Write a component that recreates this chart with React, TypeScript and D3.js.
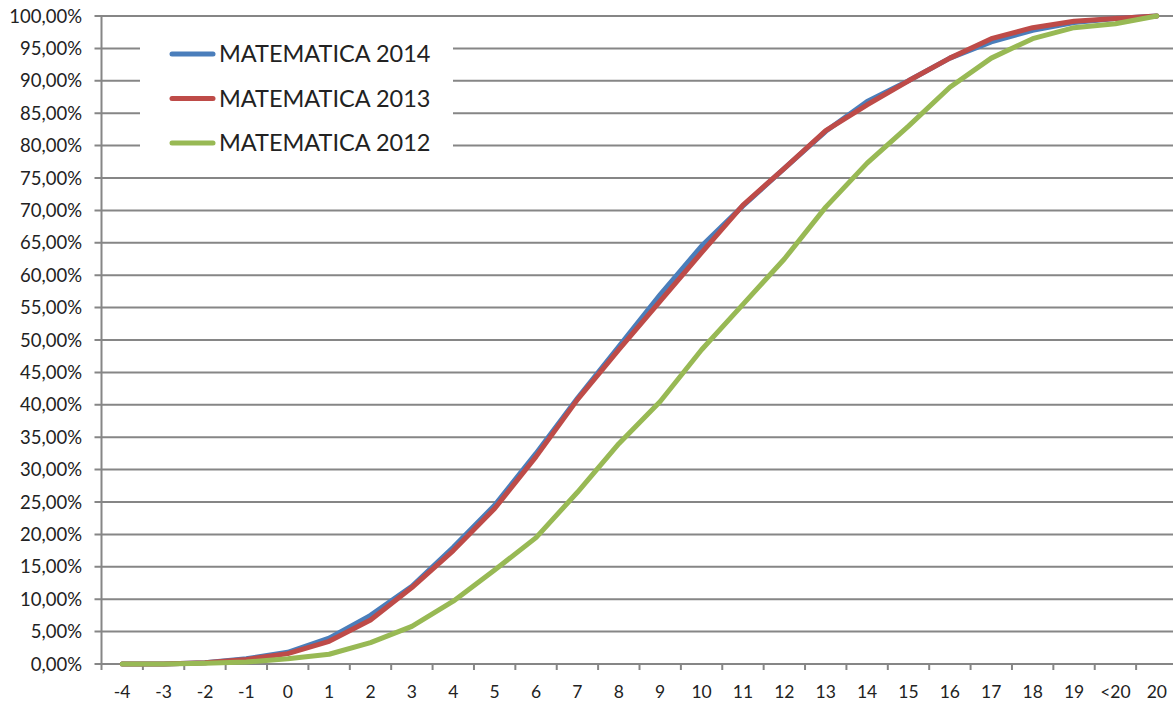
import React from "react";
import * as d3 from "d3";

const categories = ["-4","-3","-2","-1","0","1","2","3","4","5","6","7","8","9","10","11","12","13","14","15","16","17","18","19","<20","20"];
const mat2014 = [0,0,0.2,0.8,1.8,4,7.5,12,18,24.5,32.5,41,49,57,64.5,70.7,76.5,82.2,86.8,90,93.5,96,97.8,99,99.6,100];
const mat2013 = [0,0,0.2,0.7,1.6,3.5,6.8,11.8,17.5,24,32,40.8,48.5,56,63.5,70.8,76.5,82.3,86.3,90,93.5,96.5,98.2,99.2,99.6,100];
const mat2012 = [0,0,0.1,0.3,0.8,1.5,3.3,5.8,9.7,14.5,19.5,26.5,34,40.5,48.5,55.5,62.5,70.5,77.3,83,89,93.5,96.5,98.2,98.8,100];
const yTicks = d3.range(0, 101, 5);

const series = [
  { name: "MATEMATICA 2014", values: mat2014, color: "#4A7EBB" },
  { name: "MATEMATICA 2013", values: mat2013, color: "#BE4B48" },
  { name: "MATEMATICA 2012", values: mat2012, color: "#98B954" },
];

const W = 1173, H = 705;
const left = 101.5, right = 1177.5, top = 16, bottom = 664;
const font = "Lato, 'Open Sans', sans-serif";

export default function App() {
  const x = d3.scaleBand<string>().domain(categories).range([left, right]);
  const y = d3.scaleLinear().domain([0, 100]).range([bottom, top]);
  const line = d3.line<number>()
    .x((_, i) => (x(categories[i]) as number) + x.bandwidth() / 2)
    .y((d) => y(d));
  const fmt = (v: number) => v.toFixed(2).replace(".", ",") + "%";
  const tickXs = d3.range(categories.length + 1).map((i) => left + i * x.bandwidth());

  return (
    <svg width={W} height={H} style={{ position: "absolute", left: 0, top: 0 }}>
      <rect width={W} height={H} fill="#fff" />
      {yTicks.map((t) => (
        <g key={t}>
          <line x1={left - 7} x2={right} y1={y(t)} y2={y(t)} stroke="#868686" strokeWidth={2} />
          <text x={82} y={y(t)} dy="0.36em" textAnchor="end" fontFamily={font} fontSize={18.5} fill="#222">{fmt(t)}</text>
        </g>
      ))}
      <line x1={left} x2={left} y1={top} y2={bottom} stroke="#868686" strokeWidth={2} />
      {tickXs.map((tx, i) => (
        <line key={i} x1={tx} x2={tx} y1={bottom} y2={bottom + 6} stroke="#868686" strokeWidth={2} />
      ))}
      {categories.map((c) => (
        <text key={c} x={(x(c) as number) + x.bandwidth() / 2} y={692} dy="0.36em" textAnchor="middle" fontFamily={font} fontSize={17.5} fill="#222">{c}</text>
      ))}
      {series.map((s) => (
        <path key={s.name} d={line(s.values) || ""} fill="none" stroke={s.color} strokeWidth={5} strokeLinejoin="round" strokeLinecap="round" />
      ))}
      <rect x={140} y={26} width={313} height={142} fill="#fff" />
      {series.map((s, i) => (
        <g key={s.name}>
          <line x1={172} x2={213} y1={54 + i * 44.5} y2={54 + i * 44.5} stroke={s.color} strokeWidth={5} strokeLinecap="round" />
          <text x={219} y={54 + i * 44.5} dy="0.36em" fontFamily={font} fontSize={23.5} fill="#222">{s.name}</text>
        </g>
      ))}
    </svg>
  );
}
